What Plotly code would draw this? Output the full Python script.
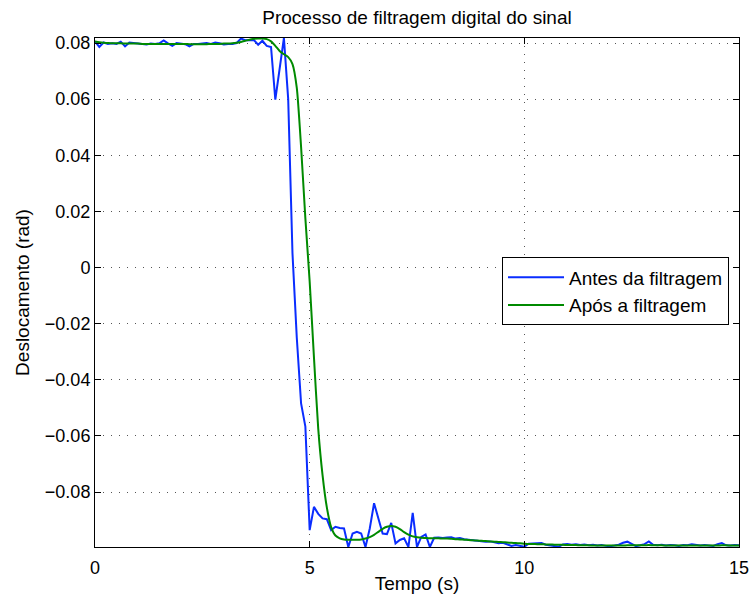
import numpy as np
import plotly.graph_objects as go

# Sample period of the recorded signal (s); samples run from 0 to 15 s
dt = 0.1
n_samples = 151
tempo = [round(i * dt, 1) for i in range(n_samples)]

# Raw displacement (rad) before filtering, one value per sample
antes = [
    0.0806, 0.0786, 0.0802, 0.0797, 0.0799, 0.0797, 0.0805, 0.0788, 0.0802, 0.0800,
    0.0797, 0.0796, 0.0795, 0.0798, 0.0797, 0.0799, 0.0809, 0.0799, 0.0790, 0.0800,
    0.0797, 0.0796, 0.0788, 0.0797, 0.0797, 0.0798, 0.0800, 0.0797, 0.0802, 0.0799,
    0.0795, 0.0797, 0.0797, 0.0800, 0.0816, 0.0810, 0.0811, 0.0811, 0.0794, 0.0808,
    0.0790, 0.0786, 0.0598, 0.0710, 0.0818, 0.0600, 0.0050, -0.0250, -0.0484, -0.0567,
    -0.0936, -0.0853, -0.0878, -0.0894, -0.0897, -0.0936, -0.0924, -0.0928, -0.0930, -0.0996,
    -0.0948, -0.0942, -0.0948, -0.0996, -0.0930, -0.0840, -0.0894, -0.0948, -0.0950, -0.0910,
    -0.0983, -0.0971, -0.0965, -0.0996, -0.0874, -0.0996, -0.0960, -0.0951, -0.0996, -0.0963,
    -0.0962, -0.0964, -0.0962, -0.0961, -0.0966, -0.0964, -0.0968, -0.0970, -0.0972, -0.0973,
    -0.0975, -0.0977, -0.0976, -0.0980, -0.0983, -0.0981, -0.0986, -0.0992, -0.0989, -0.0993,
    -0.0995, -0.0984, -0.0983, -0.0981, -0.0982, -0.0988, -0.0990, -0.0992, -0.0995, -0.0987,
    -0.0985, -0.0988, -0.0986, -0.0989, -0.0987, -0.0990, -0.0988, -0.0991, -0.0989, -0.0992,
    -0.0993, -0.0991, -0.0988, -0.0981, -0.0977, -0.0985, -0.0993, -0.0990, -0.0986, -0.0976,
    -0.0988, -0.0990, -0.0988, -0.0991, -0.0989, -0.0990, -0.0992, -0.0989, -0.0990, -0.0986,
    -0.0988, -0.0991, -0.0989, -0.0990, -0.0992, -0.0986, -0.0982, -0.0990, -0.0991, -0.0989,
    -0.0990,
]

# Displacement (rad) after the digital filter, same time base
apos = [
    0.0806, 0.0803, 0.0801, 0.0800, 0.0799, 0.0799, 0.0799, 0.0798, 0.0798, 0.0798,
    0.0798, 0.0797, 0.0797, 0.0797, 0.0797, 0.0797, 0.0797, 0.0797, 0.0797, 0.0797,
    0.0797, 0.0797, 0.0796, 0.0796, 0.0796, 0.0796, 0.0796, 0.0797, 0.0797, 0.0797,
    0.0798, 0.0798, 0.0799, 0.0801, 0.0804, 0.0808, 0.0812, 0.0815, 0.0816, 0.0816,
    0.0814, 0.0806, 0.0790, 0.0772, 0.0760, 0.0750, 0.0725, 0.0640, 0.0430, 0.0175,
    -0.0050, -0.0320, -0.0575, -0.0740, -0.0855, -0.0925, -0.0955, -0.0965, -0.0969, -0.0970,
    -0.0970, -0.0970, -0.0969, -0.0966, -0.0961, -0.0953, -0.0942, -0.0931, -0.0924, -0.0921,
    -0.0924, -0.0932, -0.0943, -0.0952, -0.0958, -0.0961, -0.0963, -0.0964, -0.0965, -0.0965,
    -0.0965, -0.0966, -0.0966, -0.0967, -0.0968, -0.0969, -0.0970, -0.0971, -0.0972, -0.0973,
    -0.0974, -0.0975, -0.0976, -0.0977, -0.0978, -0.0979, -0.0980, -0.0981, -0.0982, -0.0983,
    -0.0984, -0.0985, -0.0985, -0.0986, -0.0986, -0.0987, -0.0987, -0.0988, -0.0988, -0.0988,
    -0.0989, -0.0989, -0.0989, -0.0990, -0.0990, -0.0990, -0.0991, -0.0991, -0.0991, -0.0991,
    -0.0991, -0.0991, -0.0991, -0.0991, -0.0990, -0.0990, -0.0990, -0.0990, -0.0990, -0.0989,
    -0.0990, -0.0990, -0.0990, -0.0991, -0.0991, -0.0991, -0.0991, -0.0991, -0.0991, -0.0991,
    -0.0991, -0.0991, -0.0991, -0.0991, -0.0991, -0.0991, -0.0990, -0.0990, -0.0991, -0.0991,
    -0.0991,
]

x_ticks = [0, 5, 10, 15]
y_ticks = [-0.08, -0.06, -0.04, -0.02, 0, 0.02, 0.04, 0.06, 0.08]

FONT = "Liberation Sans, Arial, Helvetica, sans-serif"

fig = go.Figure()
fig.add_trace(go.Scatter(
    x=tempo, y=antes, mode="lines", name="Antes da filtragem",
    line=dict(color="#0a2dff", width=2),
))
fig.add_trace(go.Scatter(
    x=tempo, y=apos, mode="lines", name="Após a filtragem",
    line=dict(color="#008a00", width=2, shape="spline", smoothing=0.6),
))

axis_common = dict(
    showline=True, linecolor="black", linewidth=1, mirror="ticks",
    ticks="inside", ticklen=6, tickcolor="black", tickwidth=1,
    showgrid=True, gridcolor="#555555", gridwidth=1, griddash="1px,7px",
    zeroline=False, automargin=False,
    tickfont=dict(family=FONT, size=18, color="black"),
)

fig.update_xaxes(
    range=[0, 15], tickvals=x_ticks, ticklabelstandoff=4,
    title=dict(text="Tempo (s)", font=dict(family=FONT, size=19, color="black"), standoff=0),
    **axis_common,
)
fig.update_yaxes(
    range=[min(antes), max(antes)], tickvals=y_ticks,
    title=dict(text="Deslocamento (rad)", font=dict(family=FONT, size=19, color="black"), standoff=10),
    **axis_common,
)

fig.update_layout(
    width=752, height=599,
    margin=dict(l=95, r=13, t=38, b=52),
    paper_bgcolor="white", plot_bgcolor="white",
    title=dict(text="Processo de filtragem digital do sinal",
               font=dict(family=FONT, size=19, color="black"),
               x=(95 + 739) / 2 / 752, xanchor="center",
               y=1 - 17 / 599, yanchor="middle", yref="container"),
    legend=dict(
        x=0.632, y=0.569, xanchor="left", yanchor="top",
        bgcolor="white", bordercolor="black", borderwidth=1,
        font=dict(family=FONT, size=19, color="black"),
        itemwidth=56, tracegroupgap=0,
    ),
    showlegend=True,
)

fig.write_html("out.html")
